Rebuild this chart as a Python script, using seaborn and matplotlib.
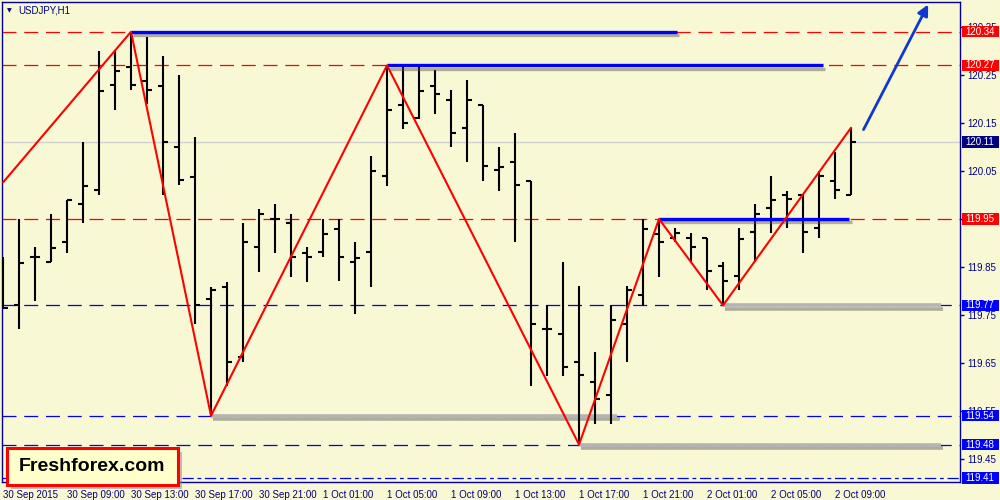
import numpy as np
import pandas as pd
import matplotlib
matplotlib.use("Agg")
import matplotlib.pyplot as plt
import matplotlib.patheffects as pe
from matplotlib.patches import Rectangle
import seaborn as sns

# USDJPY H1 bars, first bar = 30 Sep 2015 05:00
opens = [119.82, 119.771, 119.871, 119.861, 119.903, 119.982, 120.010, 120.230, 120.267, 120.237,
         120.228, 120.099, 120.038, 119.783, 119.809, 119.662, 119.892, 119.950, 119.941, 119.880,
         119.882, 119.930, 119.861, 119.882, 120.040, 120.188, 120.160, 120.228, 120.198, 120.140,
         120.188, 120.051, 120.069, 120.030, 119.721, 119.711, 119.651, 119.611, 119.583, 119.731,
         119.792, 119.919, 119.911, 119.910, 119.910, 119.851, 119.832, 119.922, 119.972, 120.000,
         120.000, 119.932, 120.030, 120.000]
highs = [119.871, 119.949, 119.891, 119.960, 119.990, 120.110, 120.300, 120.300, 120.340, 120.329,
         120.290, 120.250, 120.120, 119.809, 119.819, 119.941, 119.971, 119.981, 119.960, 119.891,
         119.949, 119.949, 119.903, 120.081, 120.270, 120.267, 120.267, 120.260, 120.219, 120.240,
         120.188, 120.100, 120.129, 120.030, 119.771, 119.860, 119.810, 119.672, 119.771, 119.810,
         119.949, 119.950, 119.931, 119.920, 119.910, 119.860, 119.931, 119.981, 120.040, 120.009,
         120.000, 120.049, 120.090, 120.139]
lows = [119.764, 119.720, 119.780, 119.861, 119.880, 119.941, 120.000, 120.178, 120.218, 120.190,
        120.000, 120.021, 119.731, 119.540, 119.601, 119.651, 119.840, 119.880, 119.830, 119.819,
        119.870, 119.821, 119.751, 119.809, 120.019, 120.138, 120.159, 120.169, 120.099, 120.069,
        120.030, 120.009, 119.901, 119.601, 119.622, 119.622, 119.480, 119.523, 119.523, 119.651,
        119.771, 119.830, 119.903, 119.860, 119.801, 119.770, 119.801, 119.860, 119.920, 119.931,
        119.880, 119.910, 119.991, 120.000]
closes = [119.764, 119.859, 119.871, 119.890, 119.990, 120.019, 120.217, 120.259, 120.230, 120.219,
          120.110, 120.031, 119.771, 119.801, 119.653, 119.901, 119.960, 119.950, 119.871, 119.871,
          119.919, 119.871, 119.869, 120.049, 120.177, 120.150, 120.217, 120.210, 120.129, 120.198,
          120.061, 120.059, 120.021, 119.731, 119.721, 119.642, 119.624, 119.574, 119.740, 119.801,
          119.929, 119.903, 119.920, 119.892, 119.842, 119.821, 119.909, 119.960, 119.990, 119.992,
          119.922, 120.040, 120.010, 120.110]

time_labels = ["30 Sep 2015", "30 Sep 09:00", "30 Sep 13:00", "30 Sep 17:00", "30 Sep 21:00",
               "1 Oct 01:00", "1 Oct 05:00", "1 Oct 09:00", "1 Oct 13:00", "1 Oct 17:00",
               "1 Oct 21:00", "2 Oct 01:00", "2 Oct 05:00", "2 Oct 09:00"]
price_ticks = [120.35, 120.25, 120.15, 120.05, 119.95, 119.85, 119.75, 119.65, 119.55, 119.45]

# zigzag pivots (bar index, price)
zz_bar = [0, 8, 13, 24, 36, 41, 45, 53]
zz_price = [120.026, 120.34, 119.54, 120.27, 119.48, 119.95, 119.77, 120.14]

# horizontal levels
red_levels = [120.34, 120.27, 119.95]
blue_levels = [119.77, 119.54, 119.48]
dashdot_level = 119.41
current_price = 120.11

# thick level segments: (start bar, end bar, price)
blue_segments = [(8, 42.1, 120.34), (24, 51.25, 120.27), (41, 52.9, 119.95)]
gray_segments = [(13, 38.4, 119.54), (45, 58.6, 119.77), (36, 58.6, 119.48)]

# right-side price boxes
box_prices = ["120.34", "120.27", "120.11", "119.95", "119.77", "119.54", "119.48", "119.41"]
box_colors = ["#FF0000", "#FF0000", "#000080", "#FF0000", "#0000FF", "#0000FF", "#0000FF", "#0000FF"]

bg = "#F8F8D4"
navy = "#000080"
frame = "#0000A0"

sns.set_style("white", rc={"axes.facecolor": bg, "figure.facecolor": bg})
plt.rcParams['font.family'] = ['Liberation Sans', 'DejaVu Sans']

fig = plt.figure(figsize=(10, 5), dpi=100)
ax = fig.add_axes([0.002, 0.036, 0.958, 0.96])

df = pd.DataFrame({"bar": np.arange(len(opens)), "open": opens, "high": highs,
                   "low": lows, "close": closes})

# level lines
for lv in red_levels:
    ax.axhline(lv, color="#FF0000", lw=0.9, dashes=(11.2, 6.2), zorder=1)
for lv in blue_levels:
    ax.axhline(lv, color="#0000FF", lw=0.9, dashes=(11.2, 6.2), zorder=1)
ax.axhline(dashdot_level, color="#0000FF", lw=0.9, dashes=(9, 3, 3, 3), zorder=1)
ax.axhline(current_price, color="#D0D0D0", lw=1, zorder=1)

# gray and blue thick segments with shadow
shadow = [pe.SimpleLineShadow(offset=(1.5, -2.5), shadow_color="#555555", alpha=0.45), pe.Normal()]
for x0, x1, p in gray_segments:
    ax.plot([x0, x1], [p, p], color="#B4B4B4", lw=2.6, solid_capstyle="butt",
            path_effects=shadow, zorder=2)

# OHLC bars
ax.vlines(df["bar"], df["low"], df["high"], color="black", lw=1.5, zorder=3)
ax.hlines(df["open"], df["bar"] - 0.3, df["bar"], color="black", lw=1.5, zorder=3)
ax.hlines(df["close"], df["bar"], df["bar"] + 0.3, color="black", lw=1.5, zorder=3)

for x0, x1, p in blue_segments:
    ax.plot([x0, x1], [p, p], color="#0000FF", lw=2.4, solid_capstyle="butt",
            path_effects=shadow, zorder=4)

# zigzag
sns.lineplot(x=zz_bar, y=zz_price, ax=ax, color="#FF0000", lw=1.5, sort=False,
             estimator=None, zorder=5)

# forecast arrow
ax.annotate("", xy=(57.9, 120.402), xytext=(53.7, 120.131),
            arrowprops=dict(arrowstyle="-|>", color="#1038D0", lw=2, mutation_scale=16),
            annotation_clip=False, zorder=6)

ax.set_xlim(-0.0625, 59.81)
ax.set_ylim(119.402, 120.402)

ax.yaxis.tick_right()
ax.set_yticks(price_ticks)
ax.set_yticklabels([f"{p:.2f}" for p in price_ticks])
ax.set_xticks(np.arange(0, 53, 4))
ax.set_xticklabels(time_labels, ha="left")
ax.tick_params(axis="both", colors=frame, labelcolor=navy, labelsize=7,
               length=3, width=1, direction="out", pad=2)
ax.tick_params(axis="x", pad=3)
for s in ax.spines.values():
    s.set_color(frame)
    s.set_linewidth(1)
ax.set_xlabel("")
ax.set_ylabel("")

# price boxes on the right axis
ytr = ax.get_yaxis_transform()
for txt, c in zip(box_prices, box_colors):
    p = float(txt)
    ax.add_patch(Rectangle((1.002, p - 0.0118), 0.039, 0.0236, transform=ytr,
                           facecolor=c, edgecolor="none", clip_on=False, zorder=10))
    ax.text(1.0055, p, txt, transform=ytr, color="white", fontsize=7,
            va="center", ha="left", zorder=11, clip_on=False)

# symbol header
ax.text(0.0165, 0.982, "USDJPY,H1", transform=ax.transAxes, color=navy, fontsize=7,
        va="center", ha="left")
ax.text(0.0055, 0.981, "\u25BC", transform=ax.transAxes, color=navy, fontsize=4.5,
        va="center", ha="left", family="DejaVu Sans")

# logo box
fig.add_artist(Rectangle((0.011, 0.022), 0.171, 0.074, transform=fig.transFigure,
                         facecolor="#888888", alpha=0.5, edgecolor="none", zorder=20))
fig.add_artist(Rectangle((0.007, 0.03), 0.171, 0.074, transform=fig.transFigure,
                         facecolor="#FFFFCC", edgecolor="#FF0000", lw=2.2, zorder=21))
fig.text(0.0925, 0.067, "Freshforex.com", fontsize=14, fontweight="bold", color="black",
         ha="center", va="center", zorder=22)

fig.savefig("out.png", dpi=100, facecolor=bg)
